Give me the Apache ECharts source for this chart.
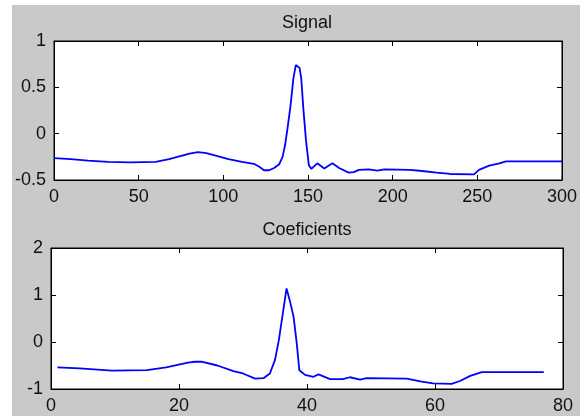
<!DOCTYPE html>
<html>
<head>
<meta charset="utf-8">
<script src="https://cdn.jsdelivr.net/npm/echarts@6/dist/echarts.min.js"></script>
<style>
  html, body { margin: 0; padding: 0; background: #ffffff; }
  #wrap { position: absolute; left: 0; top: 0; width: 580px; height: 416px; background: #ffffff; }
  #chart { position: absolute; left: 12px; top: 5px; width: 568px; height: 411px; }
</style>
</head>
<body>
<div id="wrap"><div id="chart"></div></div>
<script>
// ---- Data ----
const titles = ["Signal", "Coeficients"];

const signalX = [0, 10, 20, 32, 45, 60, 68, 74, 80, 85, 90, 96, 103, 111, 118, 121, 124, 127, 130, 133, 135, 136.5, 138, 139.6, 141.4, 142.8, 143.8, 145, 146, 147.3, 148.8, 150.5, 152, 155.5, 159.6, 164.4, 168.4, 174, 177, 180, 186, 191, 195, 210, 216, 226, 234, 248, 251, 257, 263, 267, 300];
const signalY = [-0.265, -0.275, -0.29, -0.305, -0.31, -0.305, -0.275, -0.245, -0.215, -0.2, -0.21, -0.24, -0.275, -0.305, -0.325, -0.355, -0.395, -0.395, -0.37, -0.33, -0.25, -0.12, 0.07, 0.29, 0.6, 0.74, 0.76, 0.71, 0.6, 0.26, -0.07, -0.34, -0.38, -0.32, -0.375, -0.32, -0.37, -0.42, -0.415, -0.39, -0.385, -0.40, -0.385, -0.39, -0.40, -0.42, -0.435, -0.44, -0.39, -0.345, -0.32, -0.30, -0.30];

const coefX = [1, 4.5, 9.5, 15, 18, 19.6, 21.4, 22.5, 23.5, 26, 28.5, 30, 31.9, 33.2, 34.2, 35, 35.6, 36.3, 36.8, 37.3, 37.9, 38.4, 38.8, 39.7, 41, 41.8, 43.6, 45.6, 46.7, 48.3, 49.3, 55.6, 57.7, 59.7, 62.6, 63.9, 65.5, 67.3, 77];
const coefY = [-0.54, -0.56, -0.61, -0.60, -0.54, -0.49, -0.44, -0.42, -0.42, -0.50, -0.62, -0.67, -0.78, -0.77, -0.67, -0.38, 0.04, 0.68, 1.14, 0.89, 0.54, -0.03, -0.60, -0.70, -0.74, -0.69, -0.79, -0.79, -0.75, -0.80, -0.77, -0.78, -0.84, -0.88, -0.89, -0.83, -0.72, -0.64, -0.64];

const signalXTicks = { min: 0, max: 300, interval: 50 };
const signalYTicks = { min: -0.5, max: 1, interval: 0.5 };
const coefXTicks = { min: 0, max: 80, interval: 20 };
const coefYTicks = { min: -1, max: 2, interval: 1 };

// ---- Build chart ----
const FONT = "Liberation Sans, Arial, Helvetica, sans-serif";
const txt = { color: "#111", fontFamily: FONT, fontSize: 18 };

function pairs(xs, ys) { return xs.map((x, i) => [x, ys[i]]); }

function axis(kind, grid, ticks, pos, labels) {
  return {
    type: "value",
    gridIndex: grid,
    position: pos,
    min: ticks.min, max: ticks.max, interval: ticks.interval,
    axisLine: { show: true, onZero: false, lineStyle: { color: "#000", width: 1 } },
    axisTick: { show: true, inside: true, length: 5, lineStyle: { color: "#000", width: 1 } },
    splitLine: { show: false },
    axisLabel: labels ? Object.assign({ show: true, margin: 8 }, txt) : { show: false },
  };
}

const chart = echarts.init(document.getElementById("chart"), null, { renderer: "canvas" });
chart.setOption({
  backgroundColor: "#c9c9c9",
  animation: false,
  title: [
    { text: titles[0], left: 290, top: 4, textAlign: "center", textStyle: Object.assign({ fontWeight: "normal" }, txt) },
    { text: titles[1], left: 290, top: 211, textAlign: "center", textStyle: Object.assign({ fontWeight: "normal" }, txt) },
  ],
  grid: [
    { left: 39, top: 36, width: 512, height: 139, show: true, backgroundColor: "#ffffff", borderColor: "#000", borderWidth: 1, containLabel: false },
    { left: 39, top: 243, width: 512, height: 141, show: true, backgroundColor: "#ffffff", borderColor: "#000", borderWidth: 1, containLabel: false },
  ],
  xAxis: [
    axis("x", 0, signalXTicks, "bottom", true),
    axis("x", 0, signalXTicks, "top", false),
    axis("x", 1, coefXTicks, "bottom", true),
    axis("x", 1, coefXTicks, "top", false),
  ],
  yAxis: [
    axis("y", 0, signalYTicks, "left", true),
    axis("y", 0, signalYTicks, "right", false),
    axis("y", 1, coefYTicks, "left", true),
    axis("y", 1, coefYTicks, "right", false),
  ],
  series: [
    { type: "line", xAxisIndex: 0, yAxisIndex: 0, data: pairs(signalX, signalY), showSymbol: false, symbol: "none",
      lineStyle: { color: "#0000ff", width: 1.8 }, smooth: false },
    { type: "line", xAxisIndex: 2, yAxisIndex: 2, data: pairs(coefX, coefY), showSymbol: false, symbol: "none",
      lineStyle: { color: "#0000ff", width: 1.8 }, smooth: false },
  ],
});
</script>
</body>
</html>
